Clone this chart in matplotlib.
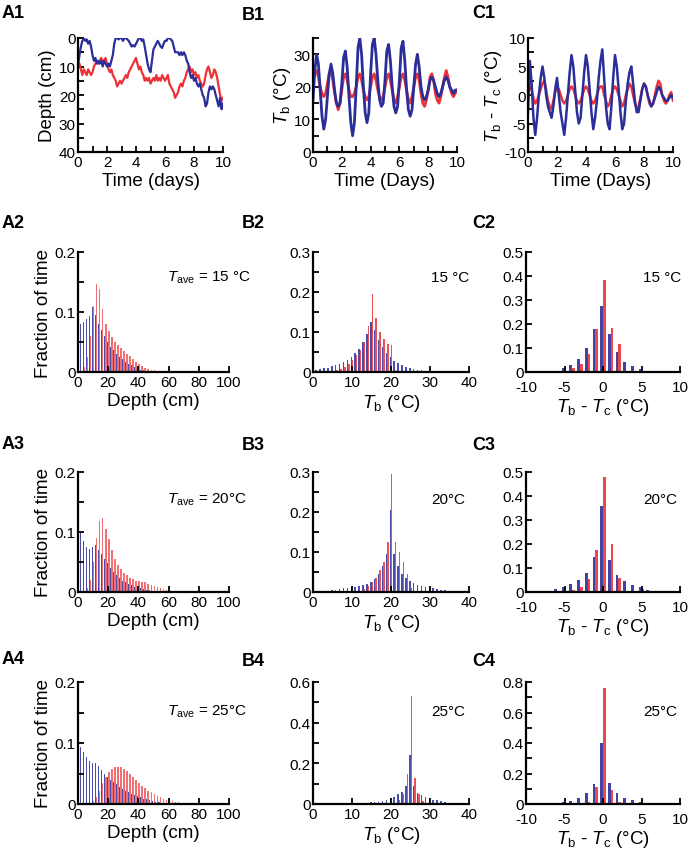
import numpy as np
import matplotlib.pyplot as plt
from matplotlib.ticker import MultipleLocator, FuncFormatter

plt.rcParams['font.family'] = ['Liberation Sans', 'DejaVu Sans']
plt.rcParams['mathtext.fontset'] = 'custom'
plt.rcParams['mathtext.rm'] = 'Liberation Sans'
plt.rcParams['mathtext.it'] = 'Liberation Sans:italic'
plt.rcParams['mathtext.bf'] = 'Liberation Sans:bold'
plt.rcParams['axes.unicode_minus'] = False

BLUE = '#2a2e9a'
RED = '#ec3237'

# ---- time series (row 1) ----
t_depth = np.linspace(0, 10, 101)
depth_blue = [10, 6, 3, 1, 0, 1, 0.5, 2, 1, 3,
              6, 8, 7, 9, 8, 9, 8, 10, 8, 9,
              10, 9, 10, 8, 6, 2, 0, 0, 0.5, 0,
              0, 1, 0, 0, 0.5, 1, 2, 3, 2.5, 3,
              2, 1, 0, 0, 1, 0.5, 3, 6, 9, 11,
              12, 8, 4, 3, 2, 1, 2, 3, 3.5, 2,
              1, 1, 0, 0, 0.5, 1, 3, 5, 5, 5,
              6, 5, 6, 5, 6, 8, 9, 12, 14, 13,
              15, 14, 16, 17, 16, 18, 20, 21, 24, 23,
              19, 17, 18, 17, 18, 20, 22, 24, 21, 25,
              23]
depth_red = [10, 9, 11, 13, 11, 12, 13, 11, 12, 13,
             12, 10, 9, 8, 9, 8, 7, 8, 8, 7,
             9, 11, 12, 11, 13, 14, 15, 17, 16, 15,
             16, 15, 14, 13, 14, 12, 11, 10, 9, 8,
             7, 9, 11, 10, 12, 13, 15, 14, 15, 14,
             16, 15, 14, 15, 13, 15, 14, 15, 13, 14,
             15, 14, 13, 16, 17, 18, 19, 21, 20, 19,
             17, 16, 17, 15, 14, 12, 11, 10, 12, 11,
             13, 12, 14, 13, 15, 16, 17, 16, 13, 11,
             10, 12, 14, 13, 11, 12, 14, 17, 20, 22,
             21]

t_temp = np.linspace(0, 10, 81)
tb_blue = [16, 25, 30, 27, 19, 11, 7, 10,
           17, 24, 27, 24, 19, 15, 14, 15,
           21, 29, 31, 26, 17, 9, 5, 9,
           20, 32, 35, 30, 20, 12, 9, 12,
           24, 33, 35, 30, 22, 16, 14, 15,
           22, 31, 33, 28, 20, 14, 12, 14,
           22, 32, 34, 28, 19, 13, 11, 13,
           20, 27, 30, 26, 20, 17, 16, 17,
           19, 22, 23, 22, 20, 18, 17, 18,
           20, 22, 23, 22, 20, 19, 18, 19,
           19]
tb_red = [22, 24, 25, 23, 20, 18, 17, 18,
          21, 24, 25, 22, 18, 15, 13, 15,
          19, 23, 24, 22, 19, 17, 17, 18,
          20, 23, 24, 22, 19, 17, 16, 17,
          20, 23, 24, 22, 19, 17, 16, 17,
          20, 23, 24, 22, 19, 16, 15, 17,
          20, 23, 24, 22, 19, 16, 15, 17,
          20, 23, 24, 22, 18, 15, 14, 16,
          19, 23, 24, 22, 18, 16, 15, 17,
          20, 23, 25, 23, 20, 18, 17, 18,
          19]
dt_blue = [-3, 6, 2, -4, -7, -4, 0, 3,
           5, 3, 0, -2, -3, -4, -2, 1,
           3, 0, -3, -5, -7, -4, 0, 4,
           7, 5, 1, -3, -5, -4, 0, 4,
           7, 5, 1, -3, -6, -4, -1, 3,
           6, 8, 3, -2, -5, -6, -2, 3,
           7, 5, 1, -3, -6, -5, -1, 2,
           4, 5, 2, -1, -3, -3, -1, 1,
           2, 1.5, 0, -1, -2, -1.5, -0.5, 0.5,
           1.5, 1, 0, -0.5, -1, -1, -0.5, 0,
           -0.5]
dt_red = [0, 1.5, 1, -0.5, -1.5, -1, 0, 1,
          2, 2.5, 1, -1, -2, -2.5, -1, 0.5,
          1.5, 1, 0, -1, -1.5, -1, 0, 1,
          1.5, 1, 0, -1, -1.5, -1, 0, 1,
          1.5, 1, 0, -1, -1.5, -1, 0, 1,
          1.5, 1.5, 0, -1, -2, -1.5, 0, 1,
          1.5, 1, 0, -1, -2, -1.5, 0, 1,
          2, 1.5, 0, -1.5, -2.5, -2, -0.5, 1,
          2, 1.5, 0, -1.5, -2, -1.5, 0, 1.5,
          2.5, 2, 0, -1, -1.5, -1, 0, 0.5,
          -1]

# ---- depth histograms (column A), 2 cm bins ----
depth_bins = np.arange(0, 100, 2)
a2_blue = [0.047, 0.080, 0.083, 0.088, 0.093, 0.108, 0.095, 0.080, 0.070, 0.060,
           0.050, 0.042, 0.036, 0.030, 0.025, 0.021, 0.017, 0.014, 0.011, 0.008,
           0.006, 0.004, 0.003, 0.002, 0.0015, 0.001, 0.001, 0.0005, 0.0005, 0,
           0, 0, 0, 0, 0, 0, 0, 0, 0, 0,
           0, 0, 0, 0, 0, 0, 0, 0, 0, 0]
a2_red = [0.001, 0.002, 0.008, 0.025, 0.060, 0.110, 0.147, 0.138, 0.105, 0.080,
          0.068, 0.058, 0.050, 0.045, 0.040, 0.035, 0.030, 0.026, 0.021, 0.017,
          0.013, 0.010, 0.007, 0.005, 0.004, 0.003, 0.002, 0.002, 0.001, 0.001,
          0.001, 0.001, 0.001, 0.001, 0.001, 0.001, 0.001, 0.001, 0.001, 0.001,
          0.001, 0.001, 0.001, 0.001, 0.001, 0.001, 0.001, 0.001, 0.001, 0.001]
a3_blue = [0.060, 0.100, 0.085, 0.075, 0.072, 0.075, 0.078, 0.070, 0.063, 0.055,
           0.048, 0.040, 0.034, 0.028, 0.023, 0.019, 0.016, 0.013, 0.011, 0.009,
           0.008, 0.006, 0.005, 0.004, 0.003, 0.002, 0.002, 0.001, 0.001, 0.0005,
           0.0005, 0, 0, 0, 0, 0, 0, 0, 0, 0,
           0, 0, 0, 0, 0, 0, 0, 0, 0, 0]
a3_red = [0, 0, 0.002, 0.006, 0.020, 0.050, 0.090, 0.118, 0.123, 0.105,
          0.088, 0.070, 0.055, 0.045, 0.038, 0.032, 0.028, 0.024, 0.021, 0.019,
          0.018, 0.017, 0.016, 0.014, 0.012, 0.010, 0.008, 0.006, 0.005, 0.004,
          0.003, 0.002, 0.002, 0.001, 0.001, 0.001, 0.001, 0.001, 0.001, 0.001,
          0.001, 0.001, 0.001, 0.001, 0.001, 0.001, 0.001, 0.001, 0.001, 0.001]
a4_blue = [0.063, 0.093, 0.085, 0.077, 0.070, 0.068, 0.067, 0.063, 0.055, 0.050,
           0.045, 0.040, 0.036, 0.032, 0.028, 0.025, 0.022, 0.020, 0.017, 0.015,
           0.013, 0.011, 0.009, 0.008, 0.006, 0.005, 0.004, 0.003, 0.002, 0.002,
           0.001, 0.001, 0.0005, 0.0005, 0, 0, 0, 0, 0, 0,
           0, 0, 0, 0, 0, 0, 0, 0, 0, 0]
a4_red = [0, 0, 0, 0, 0.001, 0.005, 0.012, 0.022, 0.035, 0.045,
          0.052, 0.057, 0.060, 0.061, 0.060, 0.058, 0.054, 0.050, 0.045, 0.040,
          0.035, 0.030, 0.026, 0.022, 0.019, 0.016, 0.013, 0.011, 0.009, 0.007,
          0.006, 0.005, 0.004, 0.003, 0.002, 0.002, 0.001, 0.001, 0.001, 0.001,
          0.001, 0.001, 0.001, 0.001, 0.001, 0.001, 0.001, 0.001, 0.001, 0.001]

# ---- Tb histograms (column B), 1 degC bins ----
tb_bins = np.arange(0, 41)
b2_blue = [0.003, 0.005, 0.007, 0.009, 0.011, 0.014, 0.017, 0.020, 0.025, 0.030,
           0.038, 0.047, 0.058, 0.075, 0.095, 0.125, 0.105, 0.080, 0.062, 0.048,
           0.037, 0.028, 0.022, 0.017, 0.013, 0.010, 0.008, 0.006, 0.004, 0.003,
           0.002, 0.001, 0.001, 0, 0, 0, 0, 0, 0, 0, 0]
b2_red = [0, 0, 0, 0, 0.001, 0.002, 0.004, 0.007, 0.012, 0.020,
          0.030, 0.042, 0.055, 0.075, 0.115, 0.195, 0.135, 0.100, 0.082, 0.070,
          0.068, 0.005, 0, 0, 0, 0, 0, 0, 0, 0,
          0, 0, 0, 0, 0, 0, 0, 0, 0, 0, 0]
b3_blue = [0, 0, 0, 0, 0, 0.005, 0.006, 0.008, 0.009, 0.010,
           0.011, 0.013, 0.015, 0.017, 0.020, 0.025, 0.032, 0.045, 0.065, 0.095,
           0.205, 0.095, 0.065, 0.045, 0.035, 0.028, 0.022, 0.018, 0.015, 0.013,
           0.011, 0.010, 0.008, 0.006, 0.004, 0.002, 0, 0, 0, 0, 0]
b3_red = [0, 0, 0, 0, 0, 0, 0, 0, 0, 0,
          0, 0, 0.003, 0.008, 0.015, 0.025, 0.035, 0.055, 0.075, 0.125,
          0.295, 0.125, 0.100, 0.075, 0.045, 0.010, 0.002, 0, 0, 0,
          0, 0, 0, 0, 0, 0, 0, 0, 0, 0, 0]
b4_blue = [0, 0, 0, 0, 0, 0, 0, 0, 0, 0,
           0.002, 0.003, 0.004, 0.005, 0.006, 0.008, 0.010, 0.012, 0.015, 0.020,
           0.025, 0.035, 0.050, 0.060, 0.090, 0.240, 0.090, 0.055, 0.045, 0.035,
           0.028, 0.022, 0.018, 0.014, 0.010, 0.007, 0.005, 0.003, 0.002, 0.001, 0]
b4_red = [0, 0, 0, 0, 0, 0, 0, 0, 0, 0,
          0, 0, 0, 0, 0, 0, 0, 0, 0, 0,
          0, 0.003, 0.020, 0.050, 0.150, 0.530, 0.130, 0.050, 0.015, 0.003,
          0, 0, 0, 0, 0, 0, 0, 0, 0, 0, 0]

# ---- Tb - Tc histograms (column C), 1 degC bins ----
dt_bins = np.arange(-10, 11)
c2_blue = [0, 0, 0, 0.002, 0.005, 0.017, 0.030, 0.055, 0.098, 0.178,
           0.275, 0.158, 0.083, 0.043, 0.023, 0.012, 0.005, 0.002, 0, 0, 0]
c2_red = [0, 0, 0, 0, 0.001, 0.005, 0.015, 0.032, 0.073, 0.178,
          0.383, 0.183, 0.117, 0.005, 0.001, 0, 0, 0, 0, 0, 0]
c3_blue = [0, 0, 0, 0.003, 0.012, 0.020, 0.035, 0.052, 0.080, 0.145,
           0.360, 0.135, 0.072, 0.045, 0.028, 0.022, 0.008, 0.002, 0, 0, 0]
c3_red = [0, 0, 0, 0, 0, 0.002, 0.008, 0.020, 0.055, 0.175,
          0.480, 0.200, 0.060, 0.005, 0.001, 0.012, 0, 0, 0, 0, 0]
c4_blue = [0, 0, 0, 0, 0.005, 0.012, 0.020, 0.040, 0.070, 0.130,
           0.400, 0.135, 0.070, 0.042, 0.025, 0.015, 0.003, 0, 0, 0, 0]
c4_red = [0, 0, 0, 0, 0, 0, 0, 0.003, 0.015, 0.110,
          0.760, 0.095, 0.015, 0.003, 0, 0, 0, 0, 0, 0, 0]

tave_labels = ['15 °C', '20°C', '25°C']

W, H = 690, 853
fig = plt.figure(figsize=(W / 100, H / 100), dpi=100)

TICK_FS = 11
LAB_FS = 13.5


def add_ax(x0, x1, y0, y1):
    return fig.add_axes([x0 / W, 1 - y1 / H, (x1 - x0) / W, (y1 - y0) / H])


def style(ax, xmaj, xmin, ymaj, ymin):
    for s in ['top', 'right']:
        ax.spines[s].set_visible(False)
    for s in ['left', 'bottom']:
        ax.spines[s].set_linewidth(1.6)
    ax.xaxis.set_major_locator(MultipleLocator(xmaj))
    ax.yaxis.set_major_locator(MultipleLocator(ymaj))
    if xmin:
        ax.xaxis.set_minor_locator(MultipleLocator(xmin))
    if ymin:
        ax.yaxis.set_minor_locator(MultipleLocator(ymin))
    ax.tick_params(which='both', direction='in', width=1.3, labelsize=TICK_FS)
    ax.tick_params(axis='y', pad=1.5)
    ax.tick_params(axis='x', pad=2.5)
    ax.tick_params(which='major', length=4.5)
    ax.tick_params(which='minor', length=4)
    fmt = FuncFormatter(lambda v, p: '%g' % round(v, 3))
    ax.xaxis.set_major_formatter(fmt)
    ax.yaxis.set_major_formatter(fmt)


def panel(x, y, s):
    fig.text(x / W, 1 - y / H, s, fontsize=13, fontweight='bold', ha='left', va='center')


def note(x, y, s, fs=11):
    fig.text(x / W, 1 - y / H, s, fontsize=fs, ha='left', va='center')


# ---- row 1 ----
ax = add_ax(78, 223, 39, 153)
ax.plot(t_depth, depth_red, color=RED, lw=1.6)
ax.plot(t_depth, depth_blue, color=BLUE, lw=1.6)
ax.set_xlim(0, 10)
ax.set_ylim(40, 0)
style(ax, 2, 1, 10, 5)
ax.set_xlabel('Time (days)', fontsize=LAB_FS, labelpad=2)
ax.set_ylabel('Depth (cm)', fontsize=LAB_FS, labelpad=2)
panel(2, 14, 'A1')

ax = add_ax(313, 457, 39, 153)
ax.plot(t_temp, tb_red, color=RED, lw=2.0)
ax.plot(t_temp, tb_blue, color=BLUE, lw=2.0)
ax.set_xlim(0, 10)
ax.set_ylim(0, 35)
style(ax, 2, 1, 10, 5)
ax.set_xlabel('Time (Days)', fontsize=LAB_FS, labelpad=2)
ax.set_ylabel(r'$T_\mathrm{b}$ (°C)', fontsize=LAB_FS, labelpad=1)
panel(242, 15, 'B1')

ax = add_ax(528, 673, 39, 153)
ax.plot(t_temp, dt_red, color=RED, lw=1.8)
ax.plot(t_temp, dt_blue, color=BLUE, lw=1.8)
ax.set_xlim(0, 10)
ax.set_ylim(-10, 10)
style(ax, 2, 1, 5, 2.5)
ax.set_xlabel('Time (Days)', fontsize=LAB_FS, labelpad=2)
ax.set_ylabel(r'$T_\mathrm{b}$ - $T_\mathrm{c}$ (°C)', fontsize=LAB_FS, labelpad=0)
panel(472, 14, 'C1')

# ---- histogram rows ----
rows = [(253, 373, 223, 278), (473, 593, 445, 500), (683, 805, 660, 712)]
a_blue = [a2_blue, a3_blue, a4_blue]
a_red = [a2_red, a3_red, a4_red]
b_blue = [b2_blue, b3_blue, b4_blue]
b_red = [b2_red, b3_red, b4_red]
c_blue = [c2_blue, c3_blue, c4_blue]
c_red = [c2_red, c3_red, c4_red]
b_ymax = [0.3, 0.3, 0.6]
b_ystep = [0.1, 0.1, 0.2]
c_ymax = [0.5, 0.5, 0.8]
c_ystep = [0.1, 0.1, 0.2]

for i, (y0, y1, ylab, yc) in enumerate(rows):
    n = i + 2
    # A
    ax = add_ax(78, 229, y0, y1)
    ax.bar(depth_bins - 0.45, a_blue[i], width=0.85, color=BLUE, alpha=0.85, lw=0)
    ax.bar(depth_bins + 0.45, a_red[i], width=0.85, color=RED, alpha=0.7, lw=0)
    ax.set_xlim(0, 100)
    ax.set_ylim(0, 0.2)
    style(ax, 20, None, 0.1, 0.05)
    ax.set_xlabel('Depth (cm)', fontsize=LAB_FS, labelpad=2)
    ax.set_ylabel('Fraction of time', fontsize=LAB_FS, labelpad=2)
    panel(2, ylab, 'A%d' % n)
    note(167, yc, r'$T_\mathrm{ave}$ = ' + tave_labels[i])

    # B
    ax = add_ax(313, 469, y0, y1)
    ax.bar(tb_bins - 0.19, b_blue[i], width=0.38, color=BLUE, alpha=0.85, lw=0)
    ax.bar(tb_bins + 0.19, b_red[i], width=0.38, color=RED, alpha=0.85, lw=0)
    ax.set_xlim(0, 40)
    ax.set_ylim(0, b_ymax[i])
    style(ax, 10, None, b_ystep[i], b_ystep[i] / 2)
    ax.set_xlabel(r'$T_\mathrm{b}$ (°C)', fontsize=LAB_FS, labelpad=2)
    panel(242, ylab + 1, 'B%d' % n)
    note(431, yc, tave_labels[i])

    # C
    ax = add_ax(526, 680, y0, y1)
    ax.bar(dt_bins - 0.18, c_blue[i], width=0.36, color=BLUE, alpha=0.9, lw=0)
    ax.bar(dt_bins + 0.18, c_red[i], width=0.36, color=RED, alpha=0.9, lw=0)
    ax.set_xlim(-10, 10)
    ax.set_ylim(0, c_ymax[i])
    style(ax, 5, None, c_ystep[i], c_ystep[i] / 2 if i == 2 else None)
    ax.tick_params(axis='x', pad=6)
    ax.set_xlabel(r'$T_\mathrm{b}$ - $T_\mathrm{c}$ (°C)', fontsize=LAB_FS, labelpad=1)
    panel(472, ylab + 1, 'C%d' % n)
    note(643, yc, tave_labels[i])

fig.savefig('out.png', dpi=100)
